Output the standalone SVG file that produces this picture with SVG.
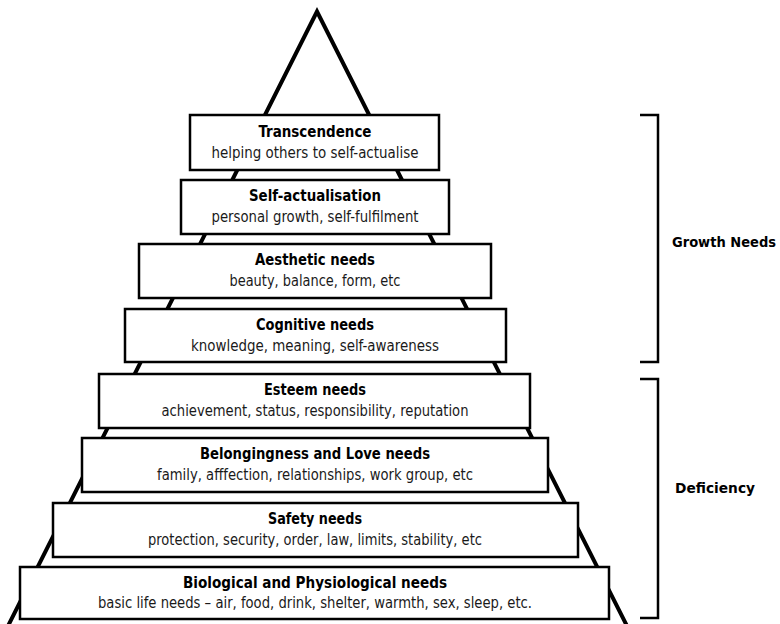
<svg xmlns="http://www.w3.org/2000/svg" width="780" height="624" viewBox="0 0 780 624">
<style>
.box{fill:#ffffff;stroke:#000000;stroke-width:2.5}
.pyr{fill:none;stroke:#000000;stroke-width:4;stroke-linejoin:miter;stroke-miterlimit:10}
.br{fill:none;stroke:#000000;stroke-width:2.5}
.t{font-family:"Liberation Sans Narrow","DejaVu Sans Condensed","Liberation Sans",Arial,sans-serif;font-weight:bold;font-size:16px;fill:#000000;text-anchor:middle}
.s{font-family:"Liberation Sans Narrow","DejaVu Sans Condensed","Liberation Sans",Arial,sans-serif;font-size:15px;fill:#1a1a1a;text-anchor:middle}
.g{font-family:"Liberation Sans Narrow","DejaVu Sans Condensed","Liberation Sans",Arial,sans-serif;font-weight:bold;font-size:14.5px;fill:#000000}
</style>
<rect width="780" height="624" fill="#ffffff"/>
<g id="connectors">
<polyline class="pyr" points="8,626 317,11.5 627,626"/>
<polyline class="br" points="640,115 658,115 658,362 640,362"/>
<polyline class="br" points="640,379 658,379 658,618 640,618"/>
</g>
<g id="transcendence">
<rect class="box" x="190" y="115" width="249" height="55"/>
<text class="t" x="315" y="137" textLength="113" lengthAdjust="spacingAndGlyphs">Transcendence</text>
<text class="s" x="315" y="158" textLength="207" lengthAdjust="spacingAndGlyphs">helping others to self-actualise</text>
</g>
<g id="self-actualisation">
<rect class="box" x="181" y="180" width="268" height="54"/>
<text class="t" x="315" y="201" textLength="132" lengthAdjust="spacingAndGlyphs">Self-actualisation</text>
<text class="s" x="315" y="222" textLength="207" lengthAdjust="spacingAndGlyphs">personal growth, self-fulfilment</text>
</g>
<g id="aesthetic">
<rect class="box" x="139" y="244" width="352" height="54"/>
<text class="t" x="315" y="265" textLength="120" lengthAdjust="spacingAndGlyphs">Aesthetic needs</text>
<text class="s" x="315" y="286" textLength="171" lengthAdjust="spacingAndGlyphs">beauty, balance, form, etc</text>
</g>
<g id="cognitive">
<rect class="box" x="125" y="309" width="381" height="53"/>
<text class="t" x="315" y="330" textLength="118" lengthAdjust="spacingAndGlyphs">Cognitive needs</text>
<text class="s" x="315" y="351" textLength="248" lengthAdjust="spacingAndGlyphs">knowledge, meaning, self-awareness</text>
</g>
<g id="esteem">
<rect class="box" x="99" y="374" width="431" height="54"/>
<text class="t" x="315" y="395" textLength="102" lengthAdjust="spacingAndGlyphs">Esteem needs</text>
<text class="s" x="315" y="416" textLength="307" lengthAdjust="spacingAndGlyphs">achievement, status, responsibility, reputation</text>
</g>
<g id="belongingness">
<rect class="box" x="82" y="438" width="466" height="54"/>
<text class="t" x="315" y="459" textLength="230" lengthAdjust="spacingAndGlyphs">Belongingness and Love needs</text>
<text class="s" x="315" y="480" textLength="316" lengthAdjust="spacingAndGlyphs">family, afffection, relationships, work group, etc</text>
</g>
<g id="safety">
<rect class="box" x="53" y="503" width="525" height="54"/>
<text class="t" x="315" y="524" textLength="94" lengthAdjust="spacingAndGlyphs">Safety needs</text>
<text class="s" x="315" y="545" textLength="334" lengthAdjust="spacingAndGlyphs">protection, security, order, law, limits, stability, etc</text>
</g>
<g id="biological">
<rect class="box" x="20" y="567" width="589" height="52"/>
<text class="t" x="315" y="588" textLength="264" lengthAdjust="spacingAndGlyphs">Biological and Physiological needs</text>
<text class="s" x="315" y="608" textLength="434" lengthAdjust="spacingAndGlyphs">basic life needs – air, food, drink, shelter, warmth, sex, sleep, etc.</text>
</g>
<g id="growth-label">
<text class="g" x="672" y="247" textLength="104" lengthAdjust="spacingAndGlyphs">Growth Needs</text>
</g>
<g id="deficiency-label">
<text class="g" x="675" y="493" textLength="80" lengthAdjust="spacingAndGlyphs">Deficiency</text>
</g>
</svg>
